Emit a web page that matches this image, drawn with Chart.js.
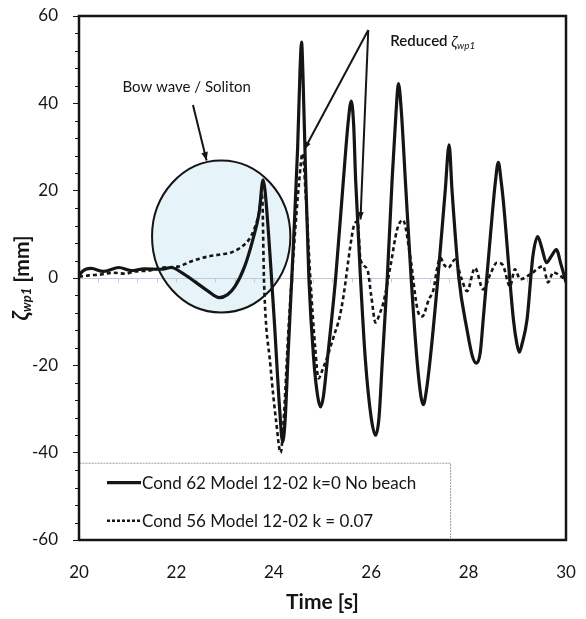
<!DOCTYPE html>
<html><head><meta charset="utf-8">
<script src="https://cdn.jsdelivr.net/npm/chart.js@4.4.1/dist/chart.umd.min.js"></script>
<style>html,body{margin:0;padding:0;background:#fff}#wrap{width:586px;height:619px;position:relative}</style>
</head><body><div id="wrap"><canvas id="c" width="586" height="619"></canvas></div>
<script>
// ---- data ----
const solidTime = [20.0,20.05,20.25,20.5,20.82,21.07,21.34,21.68,21.9,22.1,22.4,22.65,22.88,23.05,23.2,23.4,23.57,23.7,23.78,23.82,24.0,24.12,24.18,24.23,24.3,24.41,24.49,24.54,24.57,24.6,24.65,24.72,24.82,24.9,24.96,25.02,25.1,25.27,25.43,25.53,25.59,25.64,25.68,25.78,25.88,26.0,26.09,26.16,26.23,26.33,26.43,26.51,26.56,26.62,26.7,26.82,26.94,27.02,27.07,27.13,27.21,27.37,27.52,27.6,27.66,27.8,27.97,28.08,28.16,28.24,28.3,28.45,28.55,28.61,28.67,28.71,28.92,28.99,29.04,29.1,29.2,29.32,29.42,29.5,29.6,29.7,29.8,29.9,30.0];
const solidValue = [0.3,1.3,2.2,1.5,2.4,1.7,2.1,2.0,2.4,1.3,-1.0,-3.0,-4.5,-3.8,-2.0,2.6,8.8,15.0,22.5,20.0,-8.0,-30.0,-37.5,-33.0,-16.0,9.5,30.0,48.0,54.0,46.0,25.0,0.0,-18.7,-27.0,-29.5,-27.0,-18.7,0.0,22.6,36.0,40.5,35.0,22.6,0.0,-18.7,-32.0,-36.0,-32.0,-18.7,0.0,22.6,38.0,44.5,38.0,22.6,0.0,-18.7,-27.0,-29.0,-26.0,-18.7,0.0,20.0,30.5,20.0,0.0,-12.0,-18.0,-19.5,-17.0,-9.5,10.0,22.0,26.5,22.0,18.0,-9.5,-15.0,-17.0,-15.0,-9.5,5.0,9.5,7.0,3.5,5.0,6.5,3.0,-1.0];
const dashedTime = [20.0,20.2,20.45,20.7,20.95,21.15,21.45,21.74,22.03,22.3,22.64,22.91,23.11,23.32,23.49,23.59,23.69,23.76,23.8,23.93,24.05,24.14,24.2,24.3,24.42,24.52,24.59,24.65,24.75,24.85,24.92,25.0,25.1,25.23,25.35,25.43,25.57,25.64,25.72,25.78,25.92,26.0,26.09,26.18,26.25,26.4,26.53,26.65,26.8,26.95,27.05,27.18,27.28,27.35,27.42,27.5,27.58,27.72,27.85,27.97,28.13,28.3,28.45,28.58,28.7,28.85,28.95,29.06,29.26,29.53,29.63,29.74,29.88,30.0];
const dashedValue = [0.3,0.6,0.8,1.2,1.0,1.5,1.7,2.4,2.6,3.8,4.9,5.4,5.8,7.0,8.8,11.0,14.6,19.0,-1.0,-20.0,-33.0,-40.0,-33.0,-12.0,8.0,22.0,28.5,20.0,0.0,-16.0,-23.0,-21.0,-18.0,-13.4,-9.0,-4.2,7.2,11.8,13.0,4.2,2.0,-4.0,-10.2,-8.0,-5.7,3.0,11.0,13.3,5.0,-7.2,-8.8,-5.0,-2.6,2.0,4.6,3.0,2.3,4.2,0.0,-3.0,2.3,-2.6,1.0,3.5,3.0,-1.9,2.0,-0.3,0.8,2.7,-1.0,1.3,0.5,-0.5];
const xTickValues = [20,22,24,26,28,30];
const yTickValues = [-60,-40,-20,0,20,40,60];
const seriesLabels = ['Cond 62 Model 12-02 k=0 No beach','Cond 56 Model 12-02 k = 0.07'];
const bowText = 'Bow wave / Soliton';
const reducedText = 'Reduced ';

// ---- annotation geometry (data units) ----
const circleAnn = {x:22.92, y:9.5, rx:1.42, ry:17.4};
const bowArrow = {x1:22.34, y1:39.6, x2:22.62, y2:26.9};
const bowLabel = {x:22.21, y:43.6};
const reducedApex = {x:25.94, y:56.8};
const reducedEnds = [{x:24.63, y:29.5},{x:25.78, y:13.4}];
const reducedLabel = {x:26.39, y:54.2};
const legendBox = {xRight:27.62, yTop:-42.3};

const pts = (t, v) => t.map((x, i) => ({x, y: v[i]}));
const FONT = 'Lato, "Open Sans", sans-serif';
const INK = '#151515';

function arrowHead(ctx, x1, y1, x2, y2, size) {
  const ang = Math.atan2(y2 - y1, x2 - x1);
  ctx.beginPath();
  ctx.moveTo(x2, y2);
  ctx.lineTo(x2 - size*Math.cos(ang - 0.38), y2 - size*Math.sin(ang - 0.38));
  ctx.lineTo(x2 - size*Math.cos(ang + 0.38), y2 - size*Math.sin(ang + 0.38));
  ctx.closePath();
  ctx.fill();
}

const deco = {
  id: 'deco',
  beforeDatasetsDraw(chart) {
    const {ctx, chartArea: a, scales: {x, y}} = chart;
    ctx.save();
    // legend box
    const lbR = x.getPixelForValue(legendBox.xRight), lbT = y.getPixelForValue(legendBox.yTop);
    ctx.fillStyle = '#fff';
    ctx.fillRect(a.left, lbT, lbR - a.left, a.bottom - lbT);
    ctx.strokeStyle = '#9a9a9a';
    ctx.lineWidth = 1;
    ctx.setLineDash([2, 1]);
    ctx.strokeRect(a.left + 0.5, lbT + 0.5, lbR - a.left, a.bottom - lbT);
    ctx.setLineDash([]);
    // circle
    const cx = x.getPixelForValue(circleAnn.x), cy = y.getPixelForValue(circleAnn.y);
    const rx = x.getPixelForValue(circleAnn.x + circleAnn.rx) - cx;
    const ry = cy - y.getPixelForValue(circleAnn.y + circleAnn.ry);
    ctx.beginPath();
    ctx.ellipse(cx, cy, rx, ry, 0, 0, Math.PI*2);
    ctx.fillStyle = '#e6f3f8';
    ctx.fill();
    // zero line with small ticks
    const y0 = Math.round(y.getPixelForValue(0)) + 0.5;
    ctx.strokeStyle = '#c4c8dc';
    ctx.lineWidth = 1;
    ctx.beginPath();
    ctx.moveTo(a.left, y0); ctx.lineTo(a.right, y0);
    for (let t = 20.4; t < 30; t += 0.4) {
      const px = Math.round(x.getPixelForValue(t)) + 0.5;
      ctx.moveTo(px, y0); ctx.lineTo(px, y0 + 4);
    }
    ctx.stroke();
    // circle outline
    ctx.beginPath();
    ctx.ellipse(cx, cy, rx, ry, 0, 0, Math.PI*2);
    ctx.strokeStyle = INK;
    ctx.lineWidth = 2;
    ctx.stroke();
    ctx.restore();
  },
  afterDatasetsDraw(chart) {
    const {ctx, chartArea: a, scales: {x, y}} = chart;
    ctx.save();
    // plot frame
    ctx.strokeStyle = INK;
    ctx.lineWidth = 2.5;
    ctx.strokeRect(a.left, a.top, a.right - a.left, a.bottom - a.top);
    // minor y ticks
    ctx.lineWidth = 1;
    ctx.beginPath();
    for (let v = -56; v < 60; v += 4) {
      if (v % 20 === 0) continue;
      const py = Math.round(y.getPixelForValue(v)) + 0.5;
      ctx.moveTo(a.left - 4, py); ctx.lineTo(a.left, py);
    }
    ctx.stroke();
    // bow wave arrow
    ctx.fillStyle = INK;
    ctx.lineWidth = 2;
    const bx1 = x.getPixelForValue(bowArrow.x1), by1 = y.getPixelForValue(bowArrow.y1);
    const bx2 = x.getPixelForValue(bowArrow.x2), by2 = y.getPixelForValue(bowArrow.y2);
    ctx.beginPath(); ctx.moveTo(bx1, by1); ctx.lineTo(bx2, by2); ctx.stroke();
    arrowHead(ctx, bx1, by1, bx2, by2, 9);
    // reduced arrows
    const ax = x.getPixelForValue(reducedApex.x), ay = y.getPixelForValue(reducedApex.y);
    reducedEnds.forEach(e => {
      const ex = x.getPixelForValue(e.x), ey = y.getPixelForValue(e.y);
      ctx.beginPath(); ctx.moveTo(ax, ay); ctx.lineTo(ex, ey); ctx.stroke();
      arrowHead(ctx, ax, ay, ex, ey, 8);
    });
    // texts
    ctx.fillStyle = INK;
    ctx.textBaseline = 'middle';
    ctx.font = '15px ' + FONT;
    ctx.textAlign = 'center';
    ctx.fillText(bowText, x.getPixelForValue(bowLabel.x), y.getPixelForValue(bowLabel.y));
    ctx.textAlign = 'left';
    let rx0 = x.getPixelForValue(reducedLabel.x), ry0 = y.getPixelForValue(reducedLabel.y);
    ctx.font = '600 15px ' + FONT;
    ctx.fillText(reducedText, rx0, ry0);
    rx0 += ctx.measureText(reducedText).width;
    ctx.font = 'italic 16px ' + FONT;
    ctx.fillText('ζ', rx0, ry0 + 1);
    rx0 += ctx.measureText('ζ').width;
    ctx.font = 'italic 10px ' + FONT;
    ctx.fillText('wp1', rx0, ry0 + 4);
    // legend content
    const lbT = y.getPixelForValue(legendBox.yTop);
    const rows = [lbT + 20, lbT + 58];
    chart.data.datasets.forEach((ds, i) => {
      const ly = rows[i];
      ctx.strokeStyle = INK;
      ctx.lineWidth = ds.borderWidth;
      ctx.setLineDash(i === 1 ? [3, 2] : []);
      ctx.beginPath(); ctx.moveTo(a.left + 28, ly); ctx.lineTo(a.left + 62, ly); ctx.stroke();
      ctx.setLineDash([]);
      ctx.font = '17px ' + FONT;
      ctx.fillStyle = INK;
      ctx.textAlign = 'left';
      ctx.fillText(ds.label, a.left + 63, ly + 1);
    });
    ctx.restore();
    // y-axis title
    ctx.save();
    ctx.translate(22, (a.top + a.bottom) / 2);
    ctx.rotate(-Math.PI / 2);
    ctx.fillStyle = INK;
    ctx.textBaseline = 'middle';
    ctx.textAlign = 'left';
    const parts = [
      {t: 'ζ', f: 'italic bold 23px ' + FONT, dy: 0},
      {t: 'wp1', f: 'italic bold 13px ' + FONT, dy: 5},
      {t: ' [mm]', f: 'bold 21px ' + FONT, dy: 0}
    ];
    let tw = 0;
    parts.forEach(p => { ctx.font = p.f; p.w = ctx.measureText(p.t).width; tw += p.w; });
    let px = -tw / 2;
    parts.forEach(p => { ctx.font = p.f; ctx.fillText(p.t, px, p.dy); px += p.w; });
    ctx.restore();
  }
};

new Chart(document.getElementById('c'), {
  type: 'line',
  data: {
    datasets: [
      {label: seriesLabels[0], data: pts(solidTime, solidValue), borderColor: INK, borderWidth: 3.2, pointRadius: 0, cubicInterpolationMode: 'monotone', tension: 0.4, fill: false},
      {label: seriesLabels[1], data: pts(dashedTime, dashedValue), borderColor: INK, borderWidth: 2.6, borderDash: [4, 3], pointRadius: 0, cubicInterpolationMode: 'monotone', tension: 0.4, fill: false}
    ]
  },
  options: {
    responsive: false,
    animation: false,
    layout: {padding: {left: 0, right: 20, top: 16, bottom: 0}},
    plugins: {legend: {display: false}, tooltip: {enabled: false}},
    scales: {
      x: {
        type: 'linear', min: 20, max: 30,
        afterFit: s => { s.height = 79; s.paddingLeft = 0; s.paddingRight = 0; },
        afterBuildTicks: s => { s.ticks = xTickValues.map(v => ({value: v})); },
        grid: {display: false, drawTicks: false},
        border: {display: false},
        ticks: {font: {family: FONT, size: 17}, color: INK, padding: 22, maxRotation: 0},
        title: {display: true, text: 'Time [s]', font: {family: FONT, size: 21, weight: 'bold'}, color: INK, padding: {top: 4, bottom: 4}}
      },
      y: {
        type: 'linear', min: -60, max: 60,
        afterFit: s => { s.width = 79; s.paddingTop = 0; s.paddingBottom = 0; },
        afterBuildTicks: s => { s.ticks = yTickValues.map(v => ({value: v})); },
        grid: {drawOnChartArea: false, drawTicks: true, tickLength: 6, color: INK, lineWidth: 1},
        border: {display: false},
        ticks: {font: {family: FONT, size: 17}, color: INK, padding: 15}
      }
    }
  },
  plugins: [deco]
});
</script>
</body></html>
